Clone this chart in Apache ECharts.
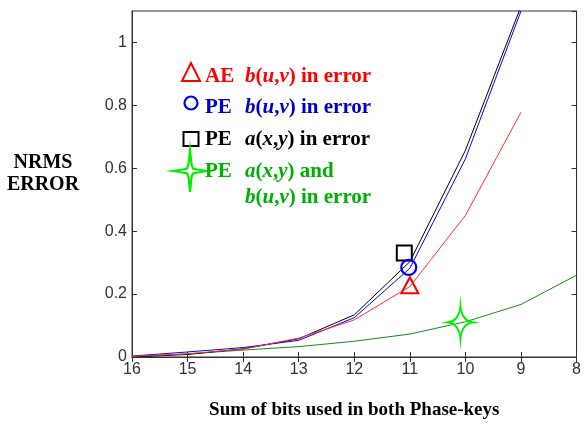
<!DOCTYPE html>
<html>
<head>
<meta charset="utf-8">
<script src="https://cdn.jsdelivr.net/npm/echarts@6/dist/echarts.min.js"></script>
<style>
  html, body { margin: 0; padding: 0; background: #fff; }
  #chart { width: 584px; height: 425px; }
</style>
</head>
<body>
<div id="chart"></div>
<script>
// bits used (x axis, reversed)
var bits = [16, 15, 14, 13, 12, 11, 10, 9, 8];
// NRMS error per curve
var aeB   = [0.002, 0.010, 0.025, 0.060, 0.118, 0.224, 0.450, 0.778];
var peB   = [0.003, 0.016, 0.030, 0.053, 0.125, 0.282, 0.630, 1.100];
var peA   = [0.000, 0.008, 0.026, 0.058, 0.134, 0.303, 0.657, 1.115];
var peAB  = [0.000, 0.010, 0.022, 0.033, 0.050, 0.073, 0.112, 0.167, 0.260];
// highlighted points
var markAeB  = [[11, 0.228]];
var markPeB  = [[11.02, 0.285]];
var markPeA  = [[11.1, 0.331]];
var markPeAB = [[10.09, 0.110]];

var star = 'path://M50,0 Q55,45 100,50 Q55,55 50,100 Q45,55 0,50 Q45,45 50,0 Z';

function pairs(vals) {
  var out = [];
  for (var i = 0; i < vals.length; i++) out.push([bits[i], vals[i]]);
  return out;
}

var chart = echarts.init(document.getElementById('chart'), null, { renderer: 'canvas' });

var tickLabel = { color: '#333', fontSize: 16, fontFamily: 'Liberation Sans, Arial', margin: 5 };
var axisCol = '#333';

function richStyles(color) {
  return {
    r: { fontFamily: 'Liberation Serif', fontWeight: 'bold', fontSize: 21, fill: color },
    i: { fontFamily: 'Liberation Serif', fontWeight: 'bold', fontStyle: 'italic', fontSize: 21, fill: color }
  };
}

function legendText(x, y, str, color) {
  return {
    type: 'text', x: x, y: y, z: 100,
    style: { text: str, rich: richStyles(color), fill: color, verticalAlign: 'middle' }
  };
}

var option = {
  animation: false,
  backgroundColor: '#fff',
  grid: { left: 132, right: 4, top: 11, bottom: 63, show: true, borderColor: axisCol, borderWidth: 1, backgroundColor: '#fff' },
  xAxis: [{
    type: 'value', inverse: true, min: 8, max: 16, interval: 1,
    axisLine: { lineStyle: { color: axisCol, width: 1 } },
    axisTick: { inside: true, length: 5, lineStyle: { color: axisCol } },
    axisLabel: tickLabel,
    splitLine: { show: false },
    name: 'Sum of bits used in both Phase-keys',
    nameLocation: 'middle', nameGap: 44,
    nameTextStyle: { fontFamily: 'Liberation Serif', fontWeight: 'bold', fontSize: 19, color: '#000' }
  }, {
    type: 'value', inverse: true, min: 8, max: 16, interval: 1, position: 'top',
    axisLine: { lineStyle: { color: axisCol, width: 1 } },
    axisTick: { inside: true, length: 5, lineStyle: { color: axisCol } },
    axisLabel: { show: false }, splitLine: { show: false }
  }],
  yAxis: [{
    type: 'value', min: 0, max: 1.1, interval: 0.2,
    axisLine: { show: true, lineStyle: { color: axisCol, width: 1 } },
    axisTick: { show: true, inside: true, length: 5, lineStyle: { color: axisCol } },
    axisLabel: Object.assign({}, tickLabel, { margin: 5, showMaxLabel: false }),
    splitLine: { show: false }
  }, {
    type: 'value', min: 0, max: 1.1, interval: 0.2, position: 'right',
    axisLine: { show: true, lineStyle: { color: axisCol, width: 1 } },
    axisTick: { show: true, inside: true, length: 5, lineStyle: { color: axisCol } },
    axisLabel: { show: false }, splitLine: { show: false }
  }],
  series: [
    { type: 'line', data: pairs(peAB), symbol: 'none', lineStyle: { color: '#1a8a1a', width: 1 }, z: 2 },
    { type: 'line', data: pairs(peA), symbol: 'none', lineStyle: { color: '#000', width: 1 }, z: 3 },
    { type: 'line', data: pairs(peB), symbol: 'none', lineStyle: { color: '#0000ff', width: 1 }, z: 4 },
    { type: 'line', data: pairs(aeB), symbol: 'none', lineStyle: { color: '#ff3030', width: 1 }, z: 5 },
    { type: 'scatter', data: markPeAB, symbol: star, symbolSize: [24, 34], z: 6,
      itemStyle: { color: 'rgba(0,0,0,0)', opacity: 1, borderColor: '#00ee00', borderWidth: 2 } },
    { type: 'scatter', data: markAeB, symbol: 'triangle', symbolSize: [17, 16], z: 7,
      itemStyle: { color: 'rgba(0,0,0,0)', opacity: 1, borderColor: '#ff0000', borderWidth: 2 } },
    { type: 'scatter', data: markPeA, symbol: 'rect', symbolSize: 15, z: 7,
      itemStyle: { color: 'rgba(0,0,0,0)', opacity: 1, borderColor: '#000', borderWidth: 2 } },
    { type: 'scatter', data: markPeB, symbol: 'circle', symbolSize: 15, z: 8,
      itemStyle: { color: 'rgba(0,0,0,0)', opacity: 1, borderColor: '#0000ff', borderWidth: 2.2 } }
  ],
  graphic: [
    { type: 'text', x: 43, y: 152, z: 100,
      style: { text: 'NRMS\nERROR', align: 'center', fontFamily: 'Liberation Serif', fontWeight: 'bold',
               fontSize: 20, lineHeight: 22, fill: '#000' } },
    // legend markers
    { type: 'polygon', z: 100, shape: { points: [[191, 63], [182, 81], [200, 81]] },
      style: { fill: 'none', stroke: '#ff0000', lineWidth: 2 } },
    { type: 'circle', z: 100, shape: { cx: 191, cy: 103, r: 6.5 },
      style: { fill: 'none', stroke: '#0000ff', lineWidth: 2.2 } },
    { type: 'rect', z: 100, shape: { x: 183.5, y: 132, width: 15, height: 14 },
      style: { fill: 'none', stroke: '#000', lineWidth: 2 } },
    { type: 'polygon', z: 100,
      shape: { points: [[190, 150], [191.5, 164], [193, 168.5], [197, 169.5], [207, 171], [197, 172.5], [193, 173.5],
                        [191.5, 177], [190, 192], [188.5, 177], [187, 173.5], [183, 172.5], [173, 171],
                        [183, 169.5], [187, 168.5], [188.5, 164]] },
      style: { fill: 'none', stroke: '#00ee00', lineWidth: 2.2 } },
    // legend text
    legendText(205, 77, '{r|AE}', '#ff0000'),
    legendText(245, 77, '{i|b}{r|(}{i|u}{r|,}{i|v}{r|) in error}', '#ff0000'),
    legendText(205, 108, '{r|PE}', '#0000cc'),
    legendText(245, 108, '{i|b}{r|(}{i|u}{r|,}{i|v}{r|) in error}', '#0000cc'),
    legendText(205, 140, '{r|PE}', '#000000'),
    legendText(245, 140, '{i|a}{r|(}{i|x}{r|,}{i|y}{r|) in error}', '#000000'),
    legendText(205, 172, '{r|PE}', '#00b000'),
    legendText(245, 172, '{i|a}{r|(}{i|x}{r|,}{i|y}{r|) and}', '#00b000'),
    legendText(245, 198, '{i|b}{r|(}{i|u}{r|,}{i|v}{r|) in error}', '#00b000')
  ]
};

chart.setOption(option);
</script>
</body>
</html>
